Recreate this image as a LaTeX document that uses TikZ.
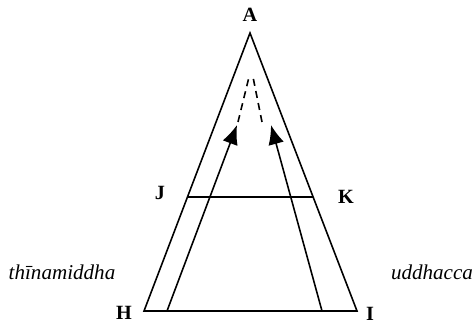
\documentclass[tikz,border=0pt]{standalone}
\usepackage{fontspec}
\setmainfont{Liberation Serif}
\usetikzlibrary{arrows.meta,positioning,calc}
\tikzset{
 edge/.style={line width=0.9pt, draw=black},
 flow/.style={edge, -{Latex[length=11pt,width=9pt]}},
 trace/.style={edge, dashed, dash pattern=on 4pt off 3pt},
 point/.style={font=\bfseries\fontsize{11.5}{13}\selectfont, inner sep=1pt},
 term/.style={font=\itshape\fontsize{12}{14}\selectfont, inner sep=1pt}
}
\begin{document}
\begin{tikzpicture}[x=0.02cm,y=-0.02cm]
\useasboundingbox (0,0) rectangle (476,323);
% corners
\coordinate (apex) at (250,33);
\coordinate (h) at (144,311);
\coordinate (i) at (357,311);
\coordinate (j) at ($(h)!114/278!(apex)$);
\coordinate (k) at ($(i)!114/278!(apex)$);
\coordinate (lfoot) at (167,311);
\coordinate (rfoot) at (322,311);
\coordinate (ltip) at (237,125);
\coordinate (rtip) at (271,125);
\coordinate (ltop) at (249,77);
\coordinate (rtop) at (253,77);
% labels
\node[point] (la) at (250,15) {A};
\node[point] (lj) at (160,193) {J};
\node[point] (lk) at (346,197) {K};
\node[point] (lh) at (124,313) {H};
\node[point] (li) at (370,314) {I};
\node[term] (thina) at (62,272) {thīnamiddha};
\node[term] (uddh) at (432,272) {uddhacca};
% triangle
\draw[edge, line join=miter] (h) -- (apex) -- (i) -- cycle;
\draw[edge] (j) -- (k);
% arrows
\draw[flow] (lfoot) -- (ltip);
\draw[flow] (rfoot) -- (rtip);
\draw[trace] ($(ltip)+(1,-3)$) -- (ltop);
\draw[trace] ($(rtip)+(-9,-3)$) -- (rtop);
\end{tikzpicture}
\end{document}
